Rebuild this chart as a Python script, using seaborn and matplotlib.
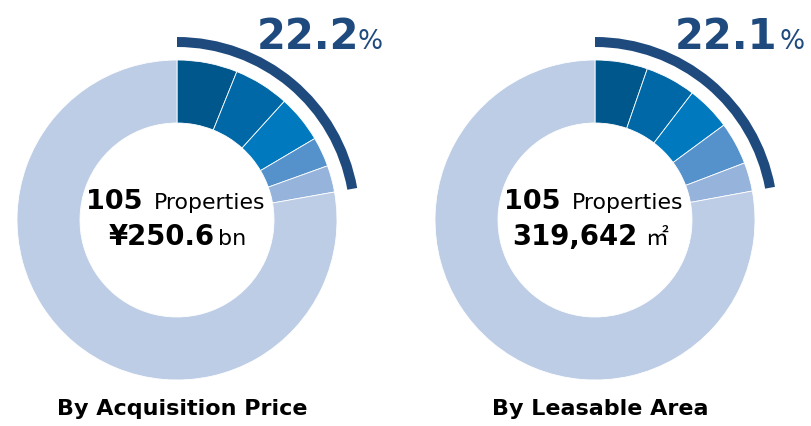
import matplotlib
matplotlib.use("Agg")
import matplotlib.pyplot as plt
from matplotlib.patches import Wedge
import seaborn as sns

# top-5 property shares (%) for each donut, rest is the remaining portfolio
price_shares = [6.1, 5.6, 4.8, 3.0, 2.7]
area_shares = [5.3, 5.1, 4.5, 4.3, 2.9]
price_total_share = "22.2"
area_total_share = "22.1"
property_count = "105"
price_total = "¥250.6"
area_total = "319,642"
titles = ["By Acquisition Price", "By Leasable Area"]

top_colors = ["#00578B", "#0068A6", "#0079BF", "#5591CB", "#95B3DB"]
rest_color = "#BDCDE6"
accent = "#1F4A7E"

sns.set_theme(style="white")
plt.rcParams["font.family"] = ["DejaVu Sans", "Noto Sans CJK JP"]

W, H = 812, 426
fig = plt.figure(figsize=(W / 100, H / 100), dpi=100)
ax = fig.add_axes([0, 0, 1, 1])
ax.set_xlim(0, W)
ax.set_ylim(0, H)
ax.set_aspect("equal")
ax.axis("off")


def donut(cx, shares, pct, title, line2, unit, unit_size, pct_gap):
    cy = H - 220
    values = shares + [100 - sum(shares)]
    ax.pie(values, colors=top_colors + [rest_color], center=(cx, cy), radius=160,
           startangle=90, counterclock=False,
           wedgeprops=dict(width=63, edgecolor="white", linewidth=0.6))
    # outer arc marking the top-5 share
    ang = sum(shares) / 100 * 360
    ax.add_patch(Wedge((cx, cy), 183, 90 - ang, 90, width=10, color=accent, lw=0))
    # share label
    ax.text(cx + 80, H - 49, pct, fontsize=30, fontweight="bold", color=accent,
            ha="left", va="baseline")
    ax.text(cx + pct_gap, H - 49, "%", fontsize=19, color=accent,
            ha="left", va="baseline")
    # center text
    ax.text(cx - 34, H - 209, property_count, fontsize=19.5, fontweight="bold",
            color="black", ha="right", va="baseline")
    ax.text(cx - 23, H - 209, "Properties", fontsize=15.8, color="black",
            ha="left", va="baseline")
    ax.text(cx + line2[1], H - 245, line2[0], fontsize=19.8, fontweight="bold",
            color="black", ha="right", va="baseline")
    ax.text(cx + line2[2], H - 245, unit, fontsize=unit_size, color="black",
            ha="left", va="baseline")
    ax.text(cx + 5, H - 415, title, fontsize=16, fontweight="bold",
            color="black", ha="center", va="baseline")


donut(177, price_shares, price_total_share, titles[0], (price_total, 38, 41), "bn", 16, 181)
donut(595, area_shares, area_total_share, titles[1], (area_total, 42, 50), "㎡", 16.5, 185)

ax.set_xlim(0, W)
ax.set_ylim(0, H)
fig.savefig("out.png", dpi=100, facecolor="white")
